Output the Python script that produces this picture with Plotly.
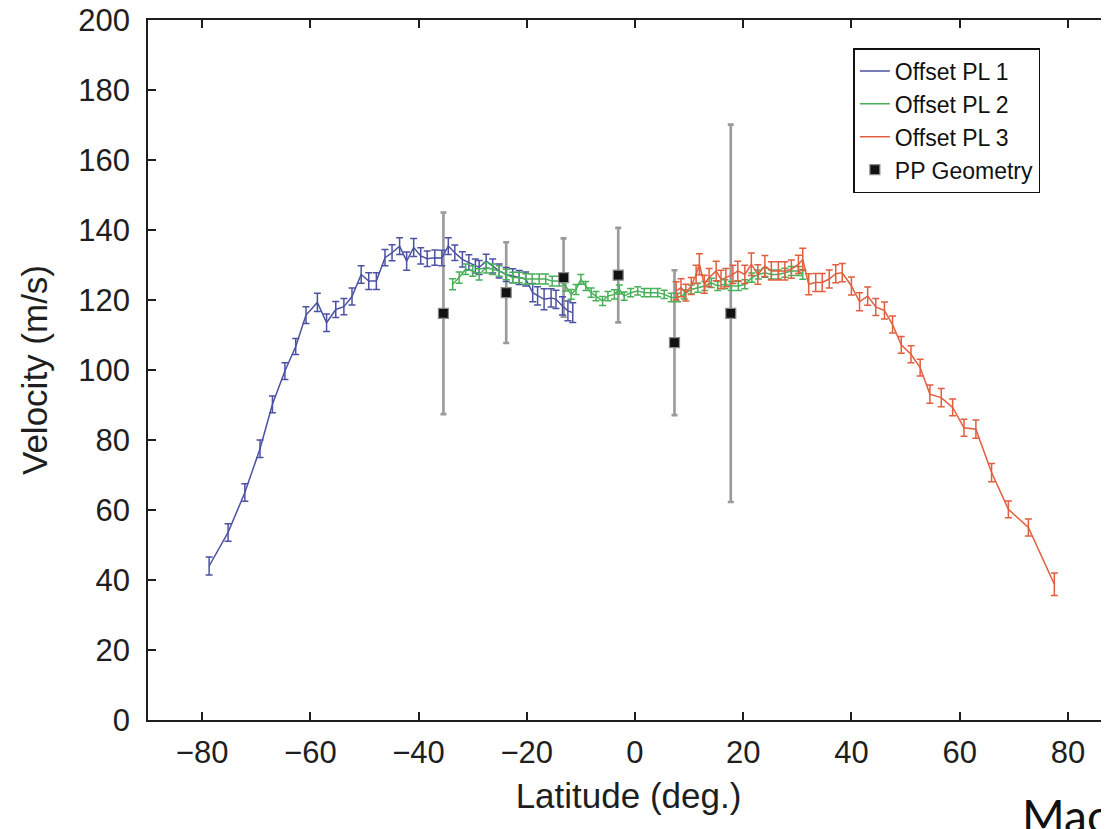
import plotly.graph_objects as go

# ---- data ----
pl1_lat = [-78.7, -75.2, -72.1, -69.3, -67.0, -64.7, -62.7, -60.8, -58.7, -57.0,
           -55.3, -53.8, -52.3, -50.6, -49.2, -47.8, -46.2, -44.9, -43.5, -42.2,
           -40.9, -39.6, -38.4, -37.0, -35.7, -34.5, -33.3, -31.9, -30.7, -29.5,
           -28.8, -27.5, -26.3, -25.1, -23.8, -22.6, -21.4, -20.2, -18.9, -18.0,
           -16.8, -15.5, -14.6, -13.4, -12.4, -11.5]
pl1_vel = [44.0, 53.6, 65.0, 77.5, 90.2, 99.7, 106.7, 115.7, 119.3, 113.5,
           117.3, 118.1, 121.0, 127.3, 125.4, 125.4, 132.1, 133.5, 135.4, 131.1,
           135.0, 132.6, 131.8, 132.1, 132.0, 135.4, 133.5, 131.6, 130.7, 129.7,
           129.3, 131.1, 129.7, 128.3, 127.3, 126.9, 126.4, 126.0, 122.1, 121.2,
           120.2, 120.6, 120.2, 118.3, 116.9, 116.4]
pl1_err = [2.6, 2.5, 2.5, 2.5, 2.4, 2.4, 2.3, 2.4, 2.6, 2.5,
           2.3, 2.3, 2.4, 2.5, 2.4, 2.4, 2.3, 2.3, 2.4, 2.6,
           2.6, 2.3, 2.2, 2.2, 2.2, 2.4, 2.2, 2.2, 2.2, 2.0,
           2.0, 2.0, 2.0, 2.0, 2.0, 2.0, 2.0, 2.0, 2.6, 2.6,
           3.0, 2.6, 2.6, 2.6, 2.8, 2.8]

pl2_lat = [-33.7, -32.5, -31.3, -30.0, -28.8, -27.5, -26.3, -25.1, -23.8, -22.6,
           -21.4, -20.2, -19.0, -17.7, -16.5, -15.3, -14.0, -12.8, -11.8, -10.9,
           -10.0, -9.1, -8.1, -7.2, -6.0, -5.0, -3.8, -2.9, -2.0, -0.8,
           0.5, 1.7, 2.9, 4.2, 5.4, 6.7, 7.9, 9.1, 10.4, 11.6,
           12.9, 14.1, 15.3, 16.6, 17.8, 19.1, 20.3, 21.6, 22.8, 24.0,
           25.2, 26.5, 27.7, 28.9, 30.2, 31.0]
pl2_vel = [124.5, 126.4, 128.8, 128.3, 127.3, 129.2, 128.8, 128.3, 127.3, 126.4,
           126.4, 126.0, 126.0, 126.0, 126.0, 125.4, 125.4, 124.0, 121.6, 123.0,
           125.9, 124.0, 122.1, 121.1, 119.7, 121.1, 121.6, 123.0, 121.1, 122.1,
           122.6, 122.1, 122.1, 122.1, 121.6, 120.7, 120.7, 121.6, 123.0, 123.5,
           124.0, 124.9, 124.0, 124.5, 124.0, 124.0, 124.5, 126.4, 127.3, 127.8,
           127.3, 127.3, 127.8, 128.3, 128.3, 127.3]
pl2_err = [1.6, 1.6, 1.5, 1.5, 1.6, 1.5, 1.5, 1.5, 1.5, 1.5,
           1.5, 1.5, 1.4, 1.4, 1.4, 1.4, 1.4, 1.4, 1.4, 1.4,
           1.4, 1.3, 1.3, 1.3, 1.3, 1.3, 1.3, 1.3, 1.2, 1.2,
           1.2, 1.2, 1.2, 1.2, 1.2, 1.2, 1.2, 1.3, 1.3, 1.3,
           1.3, 1.3, 1.3, 1.3, 1.3, 1.3, 1.3, 1.3, 1.3, 1.3,
           1.3, 1.3, 1.3, 1.3, 1.3, 1.4]

pl3_lat = [7.6, 8.5, 9.4, 10.4, 11.3, 11.9, 12.8, 13.7, 15.0, 15.9,
           16.8, 18.1, 19.0, 20.3, 21.5, 22.7, 24.0, 25.2, 26.5, 27.7,
           28.9, 30.2, 31.0, 32.1, 33.4, 34.6, 35.9, 37.1, 38.3, 40.0,
           41.5, 43.0, 44.5, 46.1, 47.6, 49.2, 51.0, 52.7, 54.5, 56.6,
           58.7, 60.8, 63.0, 65.9, 69.0, 72.7, 77.5]
pl3_vel = [122.6, 123.5, 122.1, 124.0, 127.3, 130.2, 124.5, 126.4, 128.3, 125.9,
           126.4, 127.3, 128.3, 127.3, 130.2, 127.3, 129.7, 128.3, 128.3, 128.3,
           128.8, 130.2, 131.6, 124.5, 125.0, 125.0, 126.0, 127.5, 127.8, 124.0,
           119.5, 121.1, 118.0, 117.0, 113.0, 107.2, 104.5, 100.7, 93.1, 92.1,
           89.3, 83.5, 83.1, 70.7, 60.2, 55.0, 38.8]
pl3_err = [2.6, 2.6, 2.4, 2.4, 2.6, 3.0, 2.6, 2.6, 2.8, 2.6,
           2.6, 2.6, 2.8, 2.6, 3.2, 2.8, 3.0, 2.6, 2.6, 2.6,
           2.6, 2.6, 3.2, 3.0, 2.6, 2.6, 2.6, 2.6, 2.6, 2.6,
           2.6, 2.6, 2.4, 2.4, 2.4, 2.4, 2.4, 2.4, 2.6, 2.6,
           2.4, 2.4, 2.6, 2.6, 2.4, 2.4, 3.2]

pp_lat = [-35.4, -23.8, -13.2, -3.1, 7.3, 17.7]
pp_vel = [116.2, 122.1, 126.4, 127.1, 107.8, 116.2]
pp_err = [28.8, 14.4, 11.2, 13.5, 20.7, 53.9]

# ---- styles ----
C1, C2, C3 = "#4c52a3", "#48b058", "#e15e3e"
FONT = "Liberation Sans, Arial, Helvetica, sans-serif"
AX = "#1e1e1e"

fig = go.Figure()

# PP error bars (behind the lines)
fig.add_trace(go.Scatter(
    x=pp_lat, y=pp_vel, mode="markers", showlegend=False, hoverinfo="skip",
    marker=dict(size=1, color="rgba(0,0,0,0)"),
    error_y=dict(type="data", array=pp_err, color="#9a9a9a", thickness=2.6, width=3),
))

for name, xs, ys, es, col in [
    ("Offset PL 1", pl1_lat, pl1_vel, pl1_err, C1),
    ("Offset PL 2", pl2_lat, pl2_vel, pl2_err, C2),
    ("Offset PL 3", pl3_lat, pl3_vel, pl3_err, C3),
]:
    fig.add_trace(go.Scatter(
        x=xs, y=ys, mode="lines", name=name,
        line=dict(color=col, width=1.5),
        error_y=dict(type="data", array=es, color=col, thickness=1.5, width=3.5),
    ))

fig.add_trace(go.Scatter(
    x=pp_lat, y=pp_vel, mode="markers", name="PP Geometry",
    marker=dict(symbol="square", size=10, color="#111111",
                line=dict(color="#8a8a8a", width=1.2)),
))

fig.update_layout(
    width=1109, height=829,
    margin=dict(l=140, r=8, t=12, b=117, pad=0, autoexpand=False),
    paper_bgcolor="white", plot_bgcolor="white",
    font=dict(family=FONT, color=AX),
    showlegend=True,
    legend=dict(
        x=0.734, y=0.96, xanchor="left", yanchor="top",
        bgcolor="white", bordercolor="#111111", borderwidth=1.5,
        font=dict(family=FONT, size=23, color="#111111"),
        tracegroupgap=0, itemwidth=30,
    ),
    xaxis=dict(
        range=[-90, 87.6], tickvals=[-80, -60, -40, -20, 0, 20, 40, 60, 80],
        showline=True, linecolor=AX, linewidth=1.6, mirror="ticks",
        ticks="inside", ticklen=8, tickwidth=1.5, tickcolor=AX,
        showgrid=False, zeroline=False, automargin=False,
        tickfont=dict(family=FONT, size=31, color=AX),
        ticklabelstandoff=4, ticklabeloverflow="allow",
        title=dict(text="Latitude (deg.)", font=dict(family=FONT, size=35, color=AX),
                   standoff=14),
    ),
    yaxis=dict(
        range=[0, 200], dtick=20,
        showline=True, linecolor=AX, linewidth=1.6, mirror=False,
        ticks="inside", ticklen=8, tickwidth=1.5, tickcolor=AX,
        showgrid=False, zeroline=False, automargin=False,
        tickfont=dict(family=FONT, size=31, color=AX),
        ticklabelstandoff=10, ticklabeloverflow="allow",
        title=dict(text="Velocity (m/s)", font=dict(family=FONT, size=35, color=AX),
                   standoff=20),
    ),
    annotations=[dict(
        text="Mac", xref="paper", yref="paper", x=0.907, y=-0.094,
        xanchor="left", yanchor="top", showarrow=False,
        font=dict(family="Lato, Carlito, sans-serif", size=46, color="#111111"),
    )],
)

fig.write_html("out.html")
